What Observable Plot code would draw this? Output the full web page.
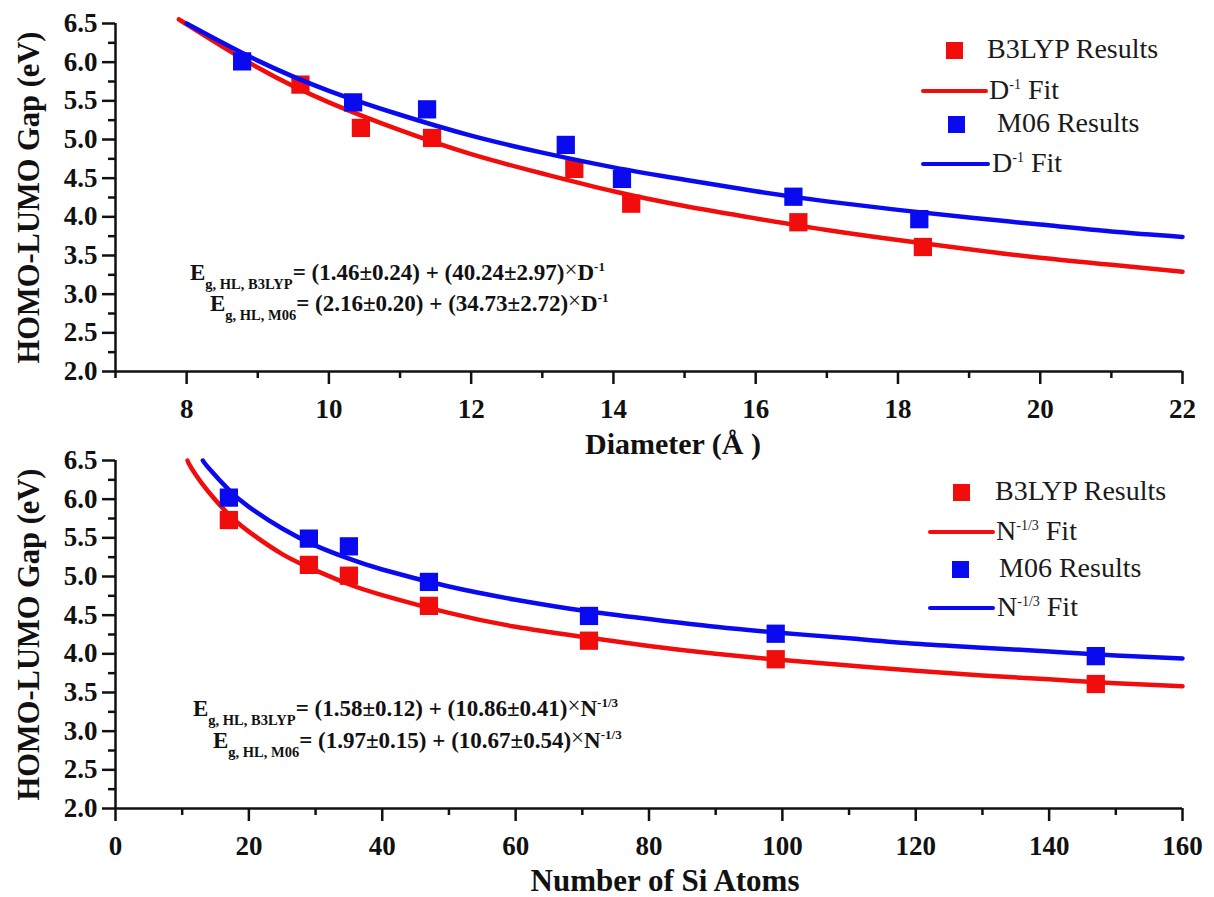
<!DOCTYPE html>
<html>
<head>
<meta charset="utf-8">
<script src="https://cdn.jsdelivr.net/npm/d3@7"></script>
<script src="https://cdn.jsdelivr.net/npm/@observablehq/plot@0.6"></script>
<style>
  html, body { margin: 0; padding: 0; background: #fff; }
  #root { position: relative; width: 1214px; height: 897px; overflow: hidden; background: #fff;
          font-family: "Liberation Serif", "Times New Roman", Times, "DejaVu Serif", "Noto Serif", serif; color: #111; }
  .panel { position: absolute; left: 0; }
  .panel svg { overflow: visible; }
  .leg { position: absolute; font-size: 28px; line-height: 1; color: #1a1a1a; white-space: nowrap; }
  .leg sup { font-size: 14px; vertical-align: 10px; line-height: 0; }
  .sq { position: absolute; width: 17px; height: 17px; }
  .ln { position: absolute; height: 4.5px; border-radius: 2px; }
  .eq { position: absolute; font-size: 23px; font-weight: bold; line-height: 1; white-space: nowrap; color: #111; }
  .eq .sub { font-size: 14.5px; vertical-align: -9px; line-height: 0; }
  .eq .x { font-weight: normal; vertical-align: 3px; }
  .eq sup { font-size: 13px; vertical-align: 9px; line-height: 0; }
</style>
</head>
<body>
<div id="root"></div>
<script>
// ---------------- data ----------------
// Top panel: diameter (Å) vs HOMO-LUMO gap (eV)
const b3lypDiameter = [9.6, 10.45, 11.45, 13.45, 14.25, 16.6, 18.35];
const b3lypGapD     = [5.71, 5.15, 5.02, 4.62, 4.17, 3.93, 3.61];
const m06Diameter   = [8.78, 10.34, 11.38, 13.33, 14.12, 16.53, 18.3];
const m06GapD       = [6.01, 5.48, 5.39, 4.93, 4.49, 4.26, 3.97];

// fit curves (top)
const fitDiameterB3 = [7.98, 8, 9, 10, 11, 12, 13, 14, 15, 16, 17, 18, 19, 20, 21, 22];
const fitGapDB3     = [6.5, 6.49, 5.93, 5.48, 5.12, 4.81, 4.56, 4.33, 4.14, 3.98, 3.83, 3.70, 3.58, 3.47, 3.38, 3.29];
const fitDiameterM6 = [8.0, 9, 10, 11, 12, 13, 14, 15, 16, 17, 18, 19, 20, 21, 22];
const fitGapDM6     = [6.5, 6.02, 5.63, 5.32, 5.05, 4.83, 4.64, 4.48, 4.33, 4.20, 4.09, 3.99, 3.90, 3.81, 3.74];

// Bottom panel: number of Si atoms vs gap
const siAtoms  = [17, 29, 35, 47, 71, 99, 147];
const b3lypGapN = [5.73, 5.15, 5.01, 4.62, 4.17, 3.93, 3.61];
const m06GapN   = [6.02, 5.49, 5.39, 4.93, 4.49, 4.26, 3.97];

// fit curves (bottom)
const fitAtomsB3 = [10.8, 11, 12, 14, 17, 20, 25, 30, 35, 40, 50, 60, 70, 80, 90, 100, 110, 120, 130, 140, 150, 160];
const fitGapNB3  = [6.5, 6.46, 6.32, 6.09, 5.80, 5.58, 5.29, 5.08, 4.90, 4.76, 4.53, 4.35, 4.22, 4.10, 4.00, 3.92, 3.85, 3.78, 3.72, 3.67, 3.62, 3.58];
const fitAtomsM6 = [13.1, 14, 17, 20, 25, 30, 35, 40, 50, 60, 70, 80, 90, 100, 110, 120, 130, 140, 150, 160];
const fitGapNM6  = [6.5, 6.40, 6.12, 5.90, 5.62, 5.40, 5.23, 5.09, 4.87, 4.70, 4.56, 4.45, 4.35, 4.27, 4.20, 4.13, 4.08, 4.03, 3.98, 3.94];

// tick labels
const diamTicks  = [8, 10, 12, 14, 16, 18, 20, 22];
const diamMinor  = [7, 9, 11, 13, 15, 17, 19, 21];
const atomTicks  = [0, 20, 40, 60, 80, 100, 120, 140, 160];
const atomMinor  = [10, 30, 50, 70, 90, 110, 130, 150];
const gapTicks   = [2.0, 2.5, 3.0, 3.5, 4.0, 4.5, 5.0, 5.5, 6.0, 6.5];
const gapMinor   = [2.25, 2.75, 3.25, 3.75, 4.25, 4.75, 5.25, 5.75, 6.25];

// text
const yTitle = "HOMO-LUMO Gap (eV)";
const xTitleTop = "Diameter (Å )";
const xTitleBottom = "Number of Si Atoms";
const seriesNames = ["B3LYP Results", "M06 Results"];
const fitNameTop = ["D", "-1", " Fit"];
const fitNameBottom = ["N", "-1/3", " Fit"];
const eqTop = [
  ["g, HL, B3LYP", "= (1.46±0.24) + (40.24±2.97)", "D", "-1"],
  ["g, HL, M06",   "= (2.16±0.20) + (34.73±2.72)", "D", "-1"]
];
const eqBottom = [
  ["g, HL, B3LYP", "= (1.58±0.12) + (10.86±0.41)", "N", "-1/3"],
  ["g, HL, M06",   "= (1.97±0.15) + (10.67±0.54)", "N", "-1/3"]
];

const RED = "#f20d0d", BLUE = "#0a0af0";
const SERIF = '"Liberation Serif", "Times New Roman", Times, "DejaVu Serif", "Noto Serif", serif';
const zip = (xs, ys) => xs.map((x, i) => ({x, y: ys[i]}));

// ---------------- plot builder ----------------
function panel({xDomain, xTicks, xMinor, xTitle, xTitleDx, xTitleSize, ptsB3, ptsM6, fitB3, fitM6, height, marginTop, marginBottom}) {
  const tickFont = {fontSize: 27, fontWeight: "bold", fontFamily: SERIF};
  return Plot.plot({
    width: 1214, height, marginLeft: 115, marginRight: 32, marginTop, marginBottom,
    x: {domain: xDomain},
    y: {domain: [2, 6.5]},
    style: {background: "transparent", color: "#111", fontFamily: SERIF, overflow: "visible"},
    marks: [
      Plot.axisY(gapTicks, {tickSize: 13, strokeWidth: 2.5, tickPadding: 5, tickFormat: d => d.toFixed(1), label: null, ...tickFont}),
      Plot.axisY(gapMinor, {tickSize: 7, strokeWidth: 2.5, text: null, label: null}),
      Plot.axisX(xTicks, {tickSize: 13, strokeWidth: 2.5, tickPadding: 14, label: null, ...tickFont}),
      Plot.axisX(xMinor, {tickSize: 7, strokeWidth: 2.5, text: null, label: null}),
      Plot.ruleX([xDomain[0]], {y1: 2, y2: 6.5, strokeWidth: 2.5, stroke: "#111"}),
      Plot.ruleY([2], {strokeWidth: 2.5, stroke: "#111"}),
      Plot.text([xTitle], {frameAnchor: "bottom", textAnchor: "middle", lineAnchor: "middle", dy: 73, dx: xTitleDx,
        fontSize: xTitleSize, fontWeight: "bold", fill: "#111", fontFamily: SERIF}),
      Plot.text([yTitle], {frameAnchor: "left", textAnchor: "middle", rotate: -90, lineAnchor: "middle", dx: -86,
        fontSize: 30.5, fontWeight: "bold", fill: "#111", fontFamily: SERIF}),
      Plot.dot(ptsB3, {x: "x", y: "y", symbol: "square", r: 10.3, fill: RED, stroke: null}),
      Plot.line(fitB3, {x: "x", y: "y", stroke: RED, strokeWidth: 4.5, curve: "natural"}),
      Plot.dot(ptsM6, {x: "x", y: "y", symbol: "square", r: 10.3, fill: BLUE, stroke: null}),
      Plot.line(fitM6, {x: "x", y: "y", stroke: BLUE, strokeWidth: 4.5, curve: "natural"})
    ]
  });
}

const root = document.getElementById("root");

const topDiv = document.createElement("div");
topDiv.className = "panel"; topDiv.style.top = "0px";
topDiv.appendChild(panel({
  xDomain: [7, 22], xTicks: diamTicks, xMinor: diamMinor, xTitle: xTitleTop, xTitleDx: 24, xTitleSize: 30,
  ptsB3: zip(b3lypDiameter, b3lypGapD), ptsM6: zip(m06Diameter, m06GapD),
  fitB3: zip(fitDiameterB3, fitGapDB3), fitM6: zip(fitDiameterM6, fitGapDM6),
  height: 470, marginTop: 23, marginBottom: 99
}));
root.appendChild(topDiv);

const botDiv = document.createElement("div");
botDiv.className = "panel"; botDiv.style.top = "440px";
botDiv.appendChild(panel({
  xDomain: [0, 160], xTicks: atomTicks, xMinor: atomMinor, xTitle: xTitleBottom, xTitleDx: 16, xTitleSize: 31,
  ptsB3: zip(siAtoms, b3lypGapN), ptsM6: zip(siAtoms, m06GapN),
  fitB3: zip(fitAtomsB3, fitGapNB3), fitM6: zip(fitAtomsM6, fitGapNM6),
  height: 457, marginTop: 20, marginBottom: 89
}));
root.appendChild(botDiv);

// ---------------- legends (HTML) ----------------
function el(tag, cls, css, html) {
  const e = document.createElement(tag);
  if (cls) e.className = cls;
  Object.assign(e.style, css || {});
  if (html != null) e.innerHTML = html;
  root.appendChild(e);
  return e;
}
function legend(fitName, layout) {
  const [r1, r2, r3, r4] = layout;
  el("div", "sq", {left: (r1[0] - 8.5) + "px", top: (r1[1] - 8.5) + "px", background: RED});
  el("div", "leg", {left: r1[2] + "px", top: (r1[1] - 15.5) + "px"}, seriesNames[0]);
  el("div", "ln", {left: r2[0] + "px", width: (r2[1] - r2[0]) + "px", top: (r2[2] - 2.25) + "px", background: RED});
  el("div", "leg", {left: r2[3] + "px", top: (r2[2] - 15.5) + "px"}, `${fitName[0]}<sup>${fitName[1]}</sup>${fitName[2]}`);
  el("div", "sq", {left: (r3[0] - 8.5) + "px", top: (r3[1] - 8.5) + "px", background: BLUE});
  el("div", "leg", {left: r3[2] + "px", top: (r3[1] - 15.5) + "px"}, seriesNames[1]);
  el("div", "ln", {left: r4[0] + "px", width: (r4[1] - r4[0]) + "px", top: (r4[2] - 2.25) + "px", background: BLUE});
  el("div", "leg", {left: r4[3] + "px", top: (r4[2] - 15.5) + "px"}, `${fitName[0]}<sup>${fitName[1]}</sup>${fitName[2]}`);
}
legend(fitNameTop, [[954, 50, 987], [921, 988, 91, 989], [956, 124, 997], [921, 990, 164, 992]]);
legend(fitNameBottom, [[961, 492, 995], [928, 995, 532, 996], [960, 569, 999], [928, 995, 608, 997]]);

// ---------------- equations (HTML) ----------------
function equation(parts, left, baseline) {
  const [sub, body, v, p] = parts;
  el("div", "eq", {left: left + "px", top: (baseline - 19.3) + "px"},
    `E<span class="sub">${sub}</span>${body}<span class="x">×</span>${v}<sup>${p}</sup>`);
}
equation(eqTop[0], 190, 277);
equation(eqTop[1], 210, 308);
equation(eqBottom[0], 193, 713);
equation(eqBottom[1], 213, 745);
</script>
</body>
</html>
